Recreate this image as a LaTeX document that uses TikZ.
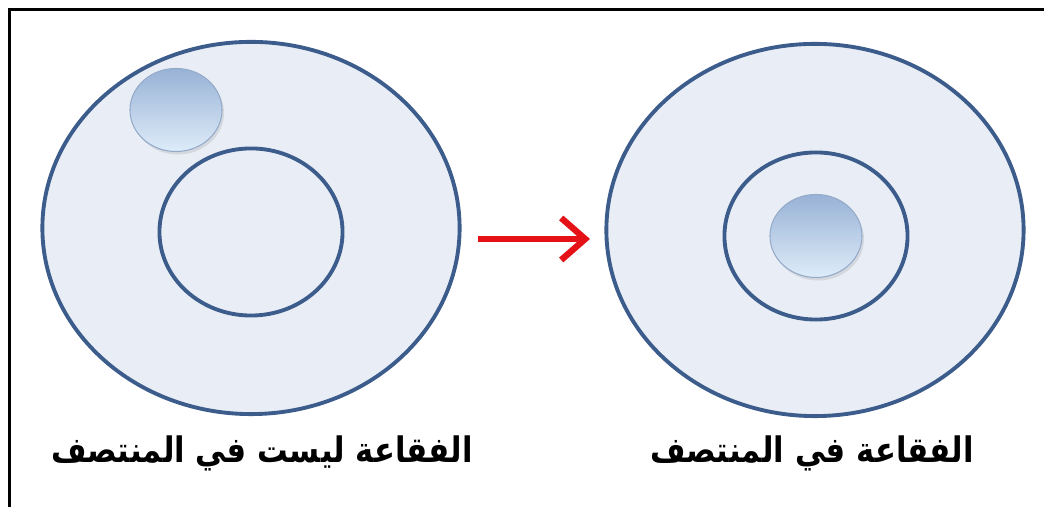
\documentclass[tikz,border=0pt]{standalone}
\usepackage{fontspec}
\usepackage{tikz}
\usetikzlibrary{arrows.meta,shapes.geometric,shadows}
\TeXXeTstate=1
\newfontfamily\arabicfont[Script=Arabic]{DejaVu Sans}
\definecolor{ringBlue}{RGB}{60,92,140}
\definecolor{ringFill}{RGB}{233,238,246}
\definecolor{dropTop}{RGB}{152,178,214}
\definecolor{dropMid}{RGB}{172,197,228}
\definecolor{dropBottom}{RGB}{222,236,249}
\definecolor{arrowRed}{RGB}{228,18,22}

\begin{document}
\begin{tikzpicture}[x=0.01cm, y=-0.01cm,
  outerring/.style={ellipse, draw=ringBlue, fill=ringFill, line width=1.1pt, minimum width=4.17cm, minimum height=3.72cm, inner sep=0pt},
  innerring/.style={ellipse, draw=ringBlue, line width=1.1pt, minimum width=1.83cm, minimum height=1.67cm, inner sep=0pt},
  bubble/.style={ellipse, top color=dropTop, middle color=dropMid, bottom color=dropBottom, draw=dropTop!85!gray, line width=0.3pt,
    minimum width=0.92cm, minimum height=0.83cm, inner sep=0pt,
    drop shadow={opacity=0.2, shadow xshift=0.02cm, shadow yshift=-0.03cm}},
  move/.style={-{Straight Barb[length=2.4mm, width=4.2mm]}, draw=arrowRed, line width=1.8pt},
  caption/.style={font=\arabicfont\bfseries\fontsize{10}{12}\selectfont, anchor=base, inner sep=0pt, xscale=0.87},
  frame/.style={draw=black, line width=1pt}
]
\useasboundingbox (0,0) rectangle (1044,507);

% --------- FRAME ----------
\draw[frame] (9.5,507) -- (9.5,9.5) -- (1044,9.5);

% --------- BUBBLE NOT CENTRED ----------
\node[outerring] (outL) at (251,228) {};
\node[innerring] (inL) at (251,232) {};
\node[bubble] (dropL) at (176,110) {};
\node[caption] (capL) at (262,463) {\beginR الفقاعة ليست في المنتصف\endR};

% --------- BUBBLE CENTRED ----------
\node[outerring] (outR) at (815,230) {};
\node[innerring] (inR) at (816,236) {};
\node[bubble] (dropR) at (816,236) {};
\node[caption] (capR) at (812,463) {\beginR الفقاعة في المنتصف\endR};

% arrow
\coordinate (from) at (478,239);
\coordinate (to) at (590,239);
\draw[move] (from) -- (to);

\end{tikzpicture}
\end{document}
